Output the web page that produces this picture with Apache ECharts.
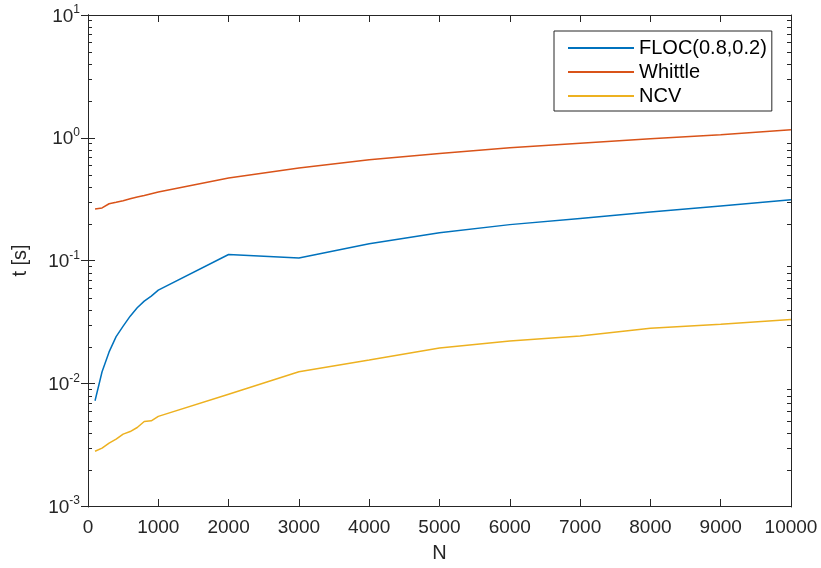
<!DOCTYPE html>
<html>
<head>
<meta charset="utf-8">
<script src="https://cdn.jsdelivr.net/npm/echarts@6/dist/echarts.min.js"></script>
<style>
html,body{margin:0;padding:0;background:#fff;}
#chart{width:821px;height:568px;}
</style>
</head>
<body>
<div id="chart"></div>
<script>
const N = [100,200,300,400,500,600,700,800,900,1000,2000,3000,4000,5000,6000,7000,8000,9000,10000];
const floc = [0.0072,0.0124,0.018,0.024,0.0292,0.0352,0.0412,0.0467,0.0513,0.0574,0.112,0.105,0.137,0.168,0.196,0.220,0.248,0.278,0.313];
const whittle = [0.263,0.268,0.29,0.298,0.307,0.318,0.329,0.338,0.35,0.362,0.47,0.567,0.662,0.745,0.83,0.9,0.98,1.06,1.16];
const ncv = [0.00279,0.00296,0.00325,0.0035,0.00385,0.00404,0.00436,0.00488,0.00494,0.00537,0.00814,0.0124,0.0155,0.0194,0.0221,0.0243,0.028,0.0302,0.033];
const seriesNames = ['FLOC(0.8,0.2)','Whittle','NCV'];
const colors = ['#0072BD','#D95319','#EDB120'];
const yMajor = [0.001,0.01,0.1,1,10];

const minorVals = [];
for (let e = -3; e < 1; e++) {
  for (let k = 2; k <= 9; k++) minorVals.push(+(k * Math.pow(10, e)).toPrecision(3));
}

const axisColor = '#262626';
const font = 'Liberation Sans, Arial, Helvetica, sans-serif';

function pairs(ys) { return N.map((n, i) => [n, ys[i]]); }

const chart = echarts.init(document.getElementById('chart'), null, {renderer: 'canvas'});

const gridRect = {left: 88, right: 30, top: 15, bottom: 61, containLabel: false};
const yBase = {
  type: 'log', logBase: 10, min: 0.001, max: 10,
  splitLine: {show: false}
};

chart.setOption({
  animation: false,
  backgroundColor: '#fff',
  color: colors,
  grid: [Object.assign({}, gridRect), Object.assign({}, gridRect)],
  legend: {
    orient: 'vertical',
    left: 554, top: 31,
    padding: [7, 5, 5, 13],
    itemGap: 4,
    itemWidth: 66, itemHeight: 18,
    backgroundColor: '#fff',
    borderColor: axisColor, borderWidth: 1, borderRadius: 0,
    itemStyle: {opacity: 0, borderWidth: 0},
    textStyle: {fontFamily: font, fontSize: 20, color: '#000'},
    data: seriesNames
  },
  xAxis: [
    {
      gridIndex: 0,
      type: 'value', min: 0, max: 10000, interval: 1000,
      axisLine: {show: true, lineStyle: {color: axisColor, width: 1}},
      axisTick: {show: true, inside: true, length: 7, lineStyle: {color: axisColor}},
      axisLabel: {fontFamily: font, fontSize: 19, color: axisColor, margin: 12, formatter: v => String(v)},
      splitLine: {show: false},
      name: 'N', nameLocation: 'middle', nameGap: 37,
      nameTextStyle: {fontFamily: font, fontSize: 20, color: axisColor}
    },
    {
      gridIndex: 0,
      type: 'value', min: 0, max: 10000, interval: 1000, position: 'top',
      axisLine: {show: true, lineStyle: {color: axisColor, width: 1}},
      axisTick: {show: true, inside: true, length: 7, lineStyle: {color: axisColor}},
      axisLabel: {show: false},
      splitLine: {show: false}
    },
    {
      gridIndex: 1,
      type: 'value', min: 0, max: 10000, show: false
    }
  ],
  yAxis: [
    Object.assign({}, yBase, {
      gridIndex: 0,
      position: 'left',
      axisLine: {show: true, lineStyle: {color: axisColor, width: 1}},
      axisTick: {show: true, inside: true, length: 7, lineStyle: {color: axisColor}, customValues: yMajor},
      axisLabel: {
        customValues: yMajor,
        margin: 8,
        formatter: function (v) {
          const e = Math.round(Math.log10(v));
          return '{b|10}{s|' + e + '}';
        },
        rich: {
          b: {fontFamily: font, fontSize: 19, color: axisColor, verticalAlign: 'bottom', lineHeight: 22},
          s: {fontFamily: font, fontSize: 12, color: axisColor, verticalAlign: 'top', lineHeight: 22, padding: [0, 0, 8, 0]}
        }
      },
      name: 't [s]', nameLocation: 'middle', nameGap: 58,
      nameTextStyle: {fontFamily: font, fontSize: 20, color: axisColor}
    }),
    Object.assign({}, yBase, {
      gridIndex: 0,
      position: 'right',
      axisLine: {show: true, lineStyle: {color: axisColor, width: 1}},
      axisTick: {show: true, inside: true, length: 7, lineStyle: {color: axisColor}, customValues: yMajor},
      axisLabel: {show: false}
    }),
    Object.assign({}, yBase, {
      gridIndex: 1,
      position: 'left',
      axisLine: {show: true, onZero: false, lineStyle: {color: axisColor, width: 1}},
      axisTick: {show: true, inside: true, length: 4, lineStyle: {color: axisColor}, customValues: minorVals},
      axisLabel: {show: false}
    }),
    Object.assign({}, yBase, {
      gridIndex: 1,
      position: 'right',
      axisLine: {show: true, onZero: false, lineStyle: {color: axisColor, width: 1}},
      axisTick: {show: true, inside: true, length: 4, lineStyle: {color: axisColor}, customValues: minorVals},
      axisLabel: {show: false}
    })
  ],
  series: [
    {name: seriesNames[0], type: 'line', xAxisIndex: 0, yAxisIndex: 0, data: pairs(floc), showSymbol: false, symbol: 'none', lineStyle: {width: 1.5, color: colors[0]}, itemStyle: {color: colors[0]}},
    {name: seriesNames[1], type: 'line', xAxisIndex: 0, yAxisIndex: 0, data: pairs(whittle), showSymbol: false, symbol: 'none', lineStyle: {width: 1.5, color: colors[1]}, itemStyle: {color: colors[1]}},
    {name: seriesNames[2], type: 'line', xAxisIndex: 0, yAxisIndex: 0, data: pairs(ncv), showSymbol: false, symbol: 'none', lineStyle: {width: 1.5, color: colors[2]}, itemStyle: {color: colors[2]}}
  ]
});
</script>
</body>
</html>
